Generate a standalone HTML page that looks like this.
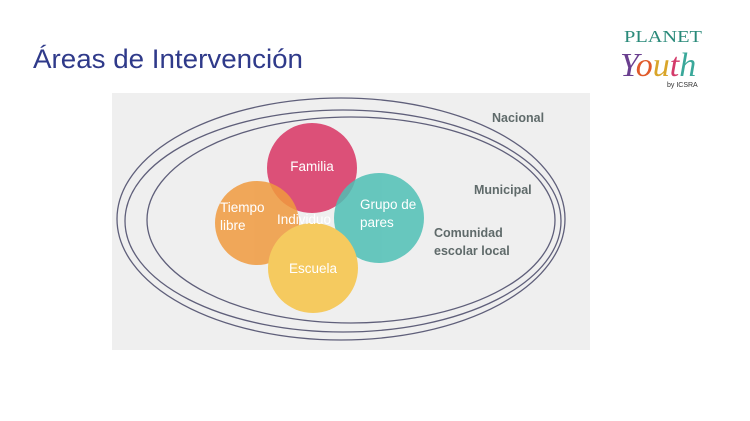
<!DOCTYPE html>
<html><head><meta charset="utf-8"><style>
html,body{margin:0;padding:0;background:#fff;width:750px;height:421px;overflow:hidden}
</style></head><body>
<svg width="750" height="421" viewBox="0 0 750 421" xmlns="http://www.w3.org/2000/svg" font-family="Liberation Sans, sans-serif">
<rect width="750" height="421" fill="#fff"/>
<text x="33" y="68" font-size="27" fill="#2f3a8a" textLength="270" lengthAdjust="spacingAndGlyphs">Áreas de Intervención</text>
<text x="624" y="42" font-size="17" fill="#2a8a7a" font-family="Liberation Serif, serif" textLength="78" lengthAdjust="spacingAndGlyphs">PLANET</text>
<text x="620" y="76" font-size="34" font-style="italic" font-family="Liberation Serif, serif" fill="#6a3f8f">Y<tspan fill="#e05a2a">o</tspan><tspan fill="#d9a52a">u</tspan><tspan fill="#d43a6a">t</tspan><tspan fill="#3aa89a">h</tspan></text>
<text x="667" y="87" font-size="7" fill="#333">by ICSRA</text>
<rect x="112" y="93" width="478" height="257" fill="#efefef"/>
<g fill="none" stroke="#5f5f7a" stroke-width="1.3">
<ellipse cx="341" cy="219" rx="224" ry="121"/>
<ellipse cx="343" cy="221" rx="218" ry="111"/>
<ellipse cx="351" cy="220" rx="204" ry="103"/>
</g>
<circle cx="312" cy="168" r="45" fill="#dc5078"/>
<g opacity="0.85">
<circle cx="379" cy="218" r="45" fill="#4fc0b5"/>
<circle cx="257" cy="223" r="42" fill="#f09a3e"/>
<circle cx="313" cy="268" r="45" fill="#f7c447"/>
</g>
<g fill="#fff" font-size="13.5">
<text x="312" y="171" text-anchor="middle">Familia</text>
<text x="220" y="212">Tiempo</text>
<text x="220" y="230">libre</text>
<text x="277" y="224">Individuo</text>
<text x="360" y="209">Grupo de</text>
<text x="360" y="227">pares</text>
<text x="313" y="273" text-anchor="middle">Escuela</text>
</g>
<g fill="#5f6a6a" font-size="12.5" font-weight="bold">
<text x="492" y="122">Nacional</text>
<text x="474" y="194">Municipal</text>
<text x="434" y="237">Comunidad</text>
<text x="434" y="255">escolar local</text>
</g>
</svg>
</body></html>
